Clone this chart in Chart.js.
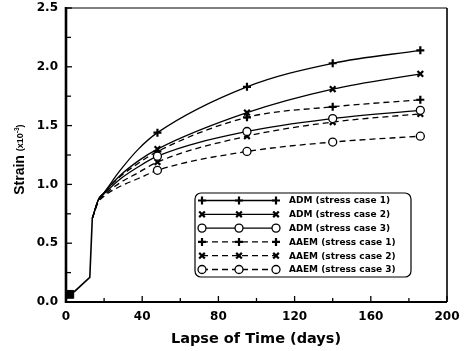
<!DOCTYPE html>
<html>
<head>
<meta charset="utf-8">
<script src="https://cdn.jsdelivr.net/npm/chart.js@4"></script>
<style>
  html, body { margin: 0; padding: 0; background: #fff; }
  #wrap { width: 465px; height: 351px; }
</style>
</head>
<body>
<div id="wrap"><canvas id="strainChart" width="465" height="351"></canvas></div>
<script>
// Lapse of time (days) and strain (x10^-3)
// common early part (straight segments)
const earlyDays = [0, 4.5, 12.5, 13.8];
const earlyStrain = [0.07, 0.09, 0.21, 0.71];

// six curves after the jump
const days = [13.8, 17, 20, 28, 38, 48, 95, 140, 186];
const markerDays = [48, 95, 140, 186];

const admCase1  = [0.71, 0.87, 0.93, 1.11, 1.30, 1.44, 1.83, 2.03, 2.14];
const admCase2  = [0.71, 0.87, 0.93, 1.07, 1.20, 1.30, 1.61, 1.81, 1.94];
const admCase3  = [0.71, 0.87, 0.92, 1.04, 1.15, 1.24, 1.45, 1.56, 1.63];
const aaemCase1 = [0.71, 0.87, 0.93, 1.06, 1.18, 1.28, 1.57, 1.66, 1.72];
const aaemCase2 = [0.71, 0.86, 0.91, 1.01, 1.10, 1.19, 1.41, 1.53, 1.60];
const aaemCase3 = [0.71, 0.85, 0.90, 0.98, 1.05, 1.12, 1.28, 1.36, 1.41];

const startDay = [2];
const startStrain = [0.065];

const labels = [
  'ADM (stress case 1)', 'ADM (stress case 2)', 'ADM (stress case 3)',
  'AAEM (stress case 1)', 'AAEM (stress case 2)', 'AAEM (stress case 3)'
];

const font = '"DejaVu Sans", "Liberation Sans", sans-serif';
const narrow = '"Liberation Sans", Arial, sans-serif';

function series(label, values, style, dashed) {
  return {
    label: label,
    data: days.map((d, i) => ({ x: d, y: values[i] })),
    borderColor: '#000',
    borderWidth: 1.3,
    borderDash: dashed ? [6, 4] : [],
    cubicInterpolationMode: 'monotone',
    pointStyle: style,
    pointRadius: ctx => markerDays.includes(ctx.raw.x) ? 4 : 0,
    pointBorderWidth: style === 'circle' ? 1.3 : 2.2,
    pointBorderColor: '#000',
    pointBackgroundColor: style === 'circle' ? '#fff' : '#000'
  };
}

const datasets = [
  series(labels[0], admCase1, 'cross', false),
  series(labels[1], admCase2, 'crossRot', false),
  series(labels[2], admCase3, 'circle', false),
  series(labels[3], aaemCase1, 'cross', true),
  series(labels[4], aaemCase2, 'crossRot', true),
  series(labels[5], aaemCase3, 'circle', true),
  {
    label: 'early',
    data: earlyDays.map((d, i) => ({ x: d, y: earlyStrain[i] })),
    borderColor: '#000',
    borderWidth: 1.6,
    tension: 0,
    pointRadius: 0
  },
  {
    label: 'start',
    data: startDay.map((d, i) => ({ x: d, y: startStrain[i] })),
    showLine: false,
    pointStyle: 'rect',
    pointRadius: 5.5,
    pointBackgroundColor: '#000',
    pointBorderColor: '#000',
    clip: false
  }
];

// frame, inward ticks, axis titles and the legend box
const decor = {
  id: 'decor',
  afterDraw(chart) {
    const c = chart.ctx;
    const a = chart.chartArea;
    const xs = chart.scales.x, ys = chart.scales.y;
    c.save();
    c.strokeStyle = '#000';
    c.setLineDash([]);

    // ticks
    c.lineWidth = 1.3;
    for (let v = 0; v <= 200; v += 20) {
      const px = xs.getPixelForValue(v);
      const len = v % 40 === 0 ? 6 : 4;
      c.beginPath(); c.moveTo(px, a.bottom); c.lineTo(px, a.bottom - len); c.stroke();
    }
    for (let v = 0; v <= 2.5001; v += 0.25) {
      const py = ys.getPixelForValue(v);
      const len = Math.abs(v / 0.5 - Math.round(v / 0.5)) < 1e-6 ? 6 : 5;
      c.beginPath(); c.moveTo(a.left, py); c.lineTo(a.left + len, py); c.stroke();
    }

    // frame
    c.lineWidth = 1;
    c.beginPath(); c.moveTo(a.left, a.top); c.lineTo(a.right, a.top); c.stroke();
    c.lineWidth = 1.6;
    c.beginPath(); c.moveTo(a.right, a.top); c.lineTo(a.right, a.bottom); c.stroke();
    c.lineWidth = 2.2;
    c.beginPath(); c.moveTo(a.left, a.bottom); c.lineTo(a.right, a.bottom); c.stroke();
    c.lineWidth = 2.6;
    c.beginPath(); c.moveTo(a.left, a.top - 1); c.lineTo(a.left, a.bottom + 1); c.stroke();

    // x title
    c.fillStyle = '#000';
    c.font = 'bold 14.5px ' + font;
    c.textAlign = 'center';
    c.textBaseline = 'middle';
    c.fillText('Lapse of Time (days)', 256, 339);

    // y title
    c.save();
    c.translate(20, 160);
    c.rotate(-Math.PI / 2);
    c.textAlign = 'left';
    c.font = 'bold 14px ' + narrow;
    const w1 = c.measureText('Strain ').width;
    c.font = 'bold 9px ' + narrow;
    const w2 = c.measureText('(x10  )').width;
    let x0 = -(w1 + w2) / 2;
    c.font = 'bold 14px ' + narrow;
    c.fillText('Strain ', x0, 0);
    x0 += w1;
    c.font = 'bold 9px ' + narrow;
    c.fillText('(x10', x0, 1);
    const w3 = c.measureText('(x10').width;
    c.font = 'bold 6.5px ' + narrow;
    c.fillText('-3', x0 + w3, -3);
    const w4 = c.measureText('-3').width;
    c.font = 'bold 9px ' + narrow;
    c.fillText(')', x0 + w3 + w4, 1);
    c.restore();

    // legend
    const bx = 195, by = 193, bw = 216, bh = 84;
    c.lineWidth = 1.2;
    c.fillStyle = '#fff';
    c.beginPath();
    c.roundRect(bx, by, bw, bh, 6);
    c.fill();
    c.stroke();
    for (let i = 0; i < 6; i++) {
      const ds = chart.data.datasets[i];
      const y = by + 7.5 + i * 13.8;
      c.lineWidth = 1.3;
      c.setLineDash(ds.borderDash);
      c.beginPath(); c.moveTo(202, y); c.lineTo(276, y); c.stroke();
      c.setLineDash([]);
      c.lineWidth = ds.pointBorderWidth;
      c.fillStyle = ds.pointBackgroundColor;
      [202, 239, 276].forEach(px => {
        Chart.helpers.drawPoint(c, { pointStyle: ds.pointStyle, radius: 4, rotation: 0, borderWidth: ds.pointBorderWidth }, px, y);
      });
      c.fillStyle = '#000';
      c.font = 'bold 9px ' + font;
      c.textAlign = 'left';
      c.fillText(ds.label, 289, y + 0.5);
    }
    c.restore();
  }
};

const ctx = document.getElementById('strainChart').getContext('2d');
const strainChart = new Chart(ctx, {
  type: 'line',
  data: { datasets: datasets },
  options: {
    responsive: false,
    animation: false,
    layout: { padding: { top: 8, right: 18, left: 0, bottom: 0 } },
    plugins: { legend: { display: false }, tooltip: { enabled: false } },
    scales: {
      x: {
        type: 'linear',
        min: 0, max: 200,
        afterFit: s => { s.height = 49; s.paddingLeft = 0; s.paddingRight = 0; },
        grid: { display: true, drawOnChartArea: false, drawTicks: false },
        border: { display: false },
        ticks: { stepSize: 40, padding: 8, color: '#000', font: { family: font, size: 12, weight: 'bold' } }
      },
      y: {
        min: 0, max: 2.5,
        afterFit: s => { s.width = 66; s.paddingTop = 0; s.paddingBottom = 0; },
        grid: { display: true, drawOnChartArea: false, drawTicks: false },
        border: { display: false },
        ticks: { stepSize: 0.5, padding: 8, color: '#000', callback: v => v.toFixed(1), font: { family: font, size: 12, weight: 'bold' } }
      }
    }
  },
  plugins: [decor]
});
</script>
</body>
</html>
